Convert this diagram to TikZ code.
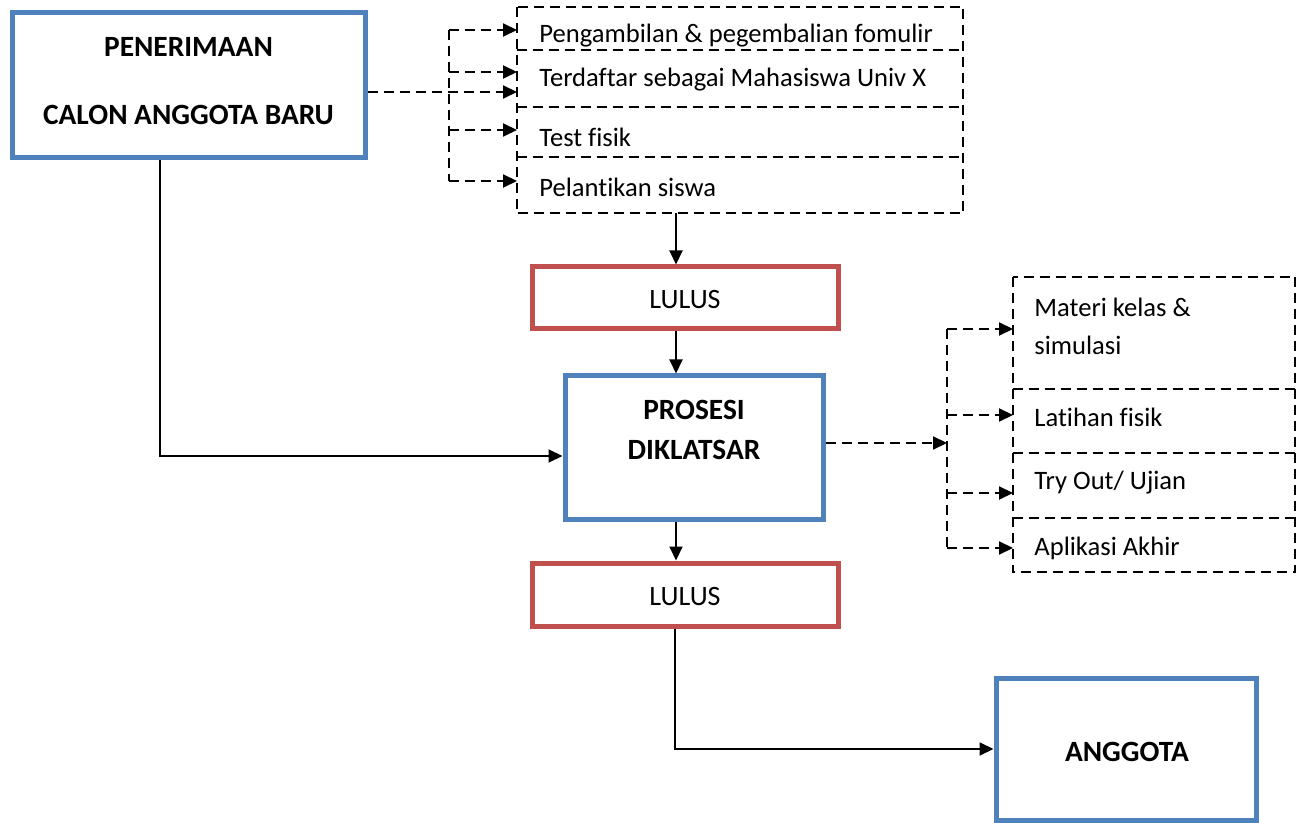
\documentclass[tikz,border=0pt]{standalone}
\usepackage{fontspec}
\setmainfont{Carlito}[Ligatures={NoCommon}]
\usetikzlibrary{arrows.meta}
\definecolor{bluebox}{HTML}{4F81BD}
\definecolor{redbox}{HTML}{C0504D}
\tikzset{
  bluerect/.style={draw=bluebox,line width=2.5pt,rectangle,inner sep=0pt,fill=white},
  redrect/.style={draw=redbox,line width=2.5pt,rectangle,inner sep=0pt,fill=white},
  cell/.style={rectangle,inner sep=0pt},
  dline/.style={line width=1pt,dash pattern=on 5pt off 3pt},
  sline/.style={line width=1pt},
  tip/.style={-{Triangle[length=7pt,width=6.5pt]}},
  reg/.style={font=\fontsize{13.3pt}{15pt}\selectfont,inner sep=0pt},
  bld/.style={font=\fontsize{14.7pt}{17pt}\selectfont\bfseries,inner sep=0pt},
}
\begin{document}
\begin{tikzpicture}[x=0.5pt,y=-0.5pt]
\useasboundingbox (0,0) rectangle (1301,823);
% main boxes
\node[bluerect,minimum width=176.5pt,minimum height=72.5pt] (pen) at (188.5,85.5) {};
\node[bld] (pent1) at (188.5,47) {PENERIMAAN};
\node[bld] (pent2) at (188.5,115) {CALON ANGGOTA BARU};
\node[redrect,minimum width=153pt,minimum height=31pt] (lul1) at (685,298) {};
\node[reg,font=\fontsize{14pt}{16pt}\selectfont] (lul1t) at (685,300) {LULUS};
\node[bluerect,minimum width=129pt,minimum height=71.5pt] (pro) at (694,447.5) {};
\node[bld] (prot1) at (694,410) {PROSESI};
\node[bld] (prot2) at (694,450) {DIKLATSAR};
\node[redrect,minimum width=153pt,minimum height=31.5pt] (lul2) at (685,594.5) {};
\node[reg,font=\fontsize{14pt}{16pt}\selectfont] (lul2t) at (685,597) {LULUS};
\node[bluerect,minimum width=130pt,minimum height=71pt] (ang) at (1126,749) {};
\node[bld] (angt) at (1127,752) {ANGGOTA};
% top dashed group
\node[cell,minimum width=223pt,minimum height=21.5pt] (r1) at (740,28.5) {};
\node[cell,minimum width=223pt,minimum height=28.5pt] (r2) at (740,78.5) {};
\node[cell,minimum width=223pt,minimum height=25pt] (r3) at (740,132) {};
\node[cell,minimum width=223pt,minimum height=28pt] (r4) at (740,185) {};
\draw[dline] (r1.north west) rectangle (r4.south east);
\draw[dline] (r1.south west) -- (r1.south east);
\draw[dline] (r2.south west) -- (r2.south east);
\draw[dline] (r3.south west) -- (r3.south east);
\node[reg,anchor=west] (r1t) at (539,36) {Pengambilan \& pegembalian fomulir};
\node[reg,anchor=west] (r2t) at (539,80) {Terdaftar sebagai Mahasiswa Univ X};
\node[reg,anchor=west] (r3t) at (539,137) {Test fisik};
\node[reg,anchor=west] (r4t) at (539,187) {Pelantikan siswa};
% right dashed group
\node[cell,minimum width=141pt,minimum height=56pt] (s1) at (1154,333) {};
\node[cell,minimum width=141pt,minimum height=32pt] (s2) at (1154,421) {};
\node[cell,minimum width=141pt,minimum height=32.5pt] (s3) at (1154,485.5) {};
\node[cell,minimum width=141pt,minimum height=27pt] (s4) at (1154,545) {};
\draw[dline] (s1.north west) rectangle (s4.south east);
\draw[dline] (s1.south west) -- (s1.south east);
\draw[dline] (s2.south west) -- (s2.south east);
\draw[dline] (s3.south west) -- (s3.south east);
\node[reg,anchor=west] (s1ta) at (1034,307) {Materi kelas \&};
\node[reg,anchor=west] (s1tb) at (1034,345) {simulasi};
\node[reg,anchor=west] (s2t) at (1034,417) {Latihan fisik};
\node[reg,anchor=west] (s3t) at (1034,483) {Try Out/ Ujian};
\node[reg,anchor=west] (s4t) at (1034,548) {Aplikasi Akhir};
% coordinates
\coordinate (tr1) at (449,0);
\coordinate (t1) at (517,30);
\coordinate (t2) at (517,72);
\coordinate (t3) at (517,130);
\coordinate (t4) at (517,181);
\coordinate (m1) at (517,92);
\coordinate (tr2) at (947,0);
\coordinate (u1) at (1013,329);
\coordinate (u2) at (1013,415);
\coordinate (u3) at (1013,493);
\coordinate (u4) at (1013,548);
\coordinate (m2) at (947,443);
\coordinate (vx) at (676,0);
\coordinate (lx) at (160,456);
\coordinate (vx2) at (675,0);
% dashed connectors top
\draw[dline,tip] (pen.east |- m1) -- (m1);
\draw[dline] (tr1 |- t1) -- (tr1 |- t4);
\draw[dline,tip] (tr1 |- t1) -- (t1);
\draw[dline,tip] (tr1 |- t2) -- (t2);
\draw[dline,tip] (tr1 |- t3) -- (t3);
\draw[dline,tip] (tr1 |- t4) -- (t4);
% dashed connectors right
\draw[dline,tip] (pro.east |- m2) -- (m2);
\draw[dline] (tr2 |- u1) -- (tr2 |- u4);
\draw[dline,tip] (tr2 |- u1) -- (u1);
\draw[dline,tip] (tr2 |- u2) -- (u2);
\draw[dline,tip] (tr2 |- u3) -- (u3);
\draw[dline,tip] (tr2 |- u4) -- (u4);
% solid connectors
\draw[sline,tip] (r4.south -| vx) -- (lul1.north -| vx);
\draw[sline,tip] (lul1.south -| vx) -- (pro.north -| vx);
\draw[sline,tip] (pro.south -| vx) -- (lul2.north -| vx);
\draw[sline,tip] (pen.south -| lx) -- (lx) -- (pro.west |- lx);
\draw[sline,tip] (lul2.south -| vx2) |- (ang.west);
\end{tikzpicture}
\end{document}
